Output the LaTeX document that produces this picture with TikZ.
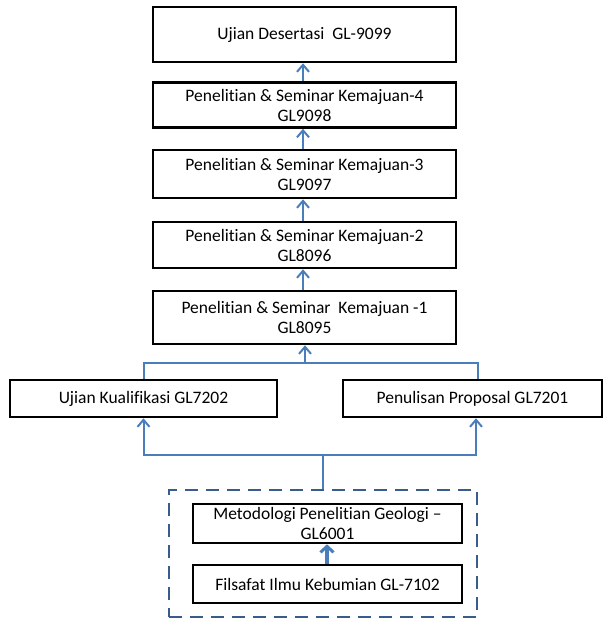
\documentclass[tikz,border=0pt]{standalone}
\usepackage{fontspec}
\setmainfont{Carlito}[Ligatures={NoCommon}, RawFeature={-liga;-clig;-dlig}]
\usetikzlibrary{arrows.meta}
\definecolor{arrowblue}{RGB}{74,126,187}
\definecolor{dashblue}{RGB}{56,93,138}
\tikzset{
  box/.style={draw=black, line width=2.6pt, rectangle, inner sep=0pt, align=center,
    font=\fontsize{17.5}{20}\selectfont},
  conn/.style={draw=arrowblue, line width=2pt},
  upar/.style={conn, -{Straight Barb[length=7pt,width=12pt,line width=2pt]}},
  group/.style={draw=dashblue, line width=2.6pt, dash pattern=on 13pt off 8pt, rectangle, inner sep=0pt}
}
\begin{document}
\begin{tikzpicture}[x=1pt,y=-1pt]
\useasboundingbox (0,0) rectangle (603,620);
\node[box, minimum width=303pt, minimum height=55pt] (b1) at (304.5,34.5) {Ujian Desertasi\ \ GL-9099};
\node[box, minimum width=303pt, minimum height=45pt] (b2) at (304.5,105) {Penelitian \& Seminar Kemajuan-4\\GL9098};
\node[box, minimum width=303pt, minimum height=48pt] (b3) at (304.5,174) {Penelitian \& Seminar Kemajuan-3\\GL9097};
\node[box, minimum width=303pt, minimum height=46pt] (b4) at (304.5,245) {Penelitian \& Seminar Kemajuan-2\\GL8096};
\node[box, minimum width=303pt, minimum height=53pt] (b5) at (304.5,317.5) {Penelitian \& Seminar\ \ Kemajuan -1\\GL8095};
\node[box, minimum width=267pt, minimum height=37pt] (kual) at (143.5,398.5) {Ujian Kualifikasi GL7202};
\node[box, minimum width=259pt, minimum height=37pt] (prop) at (472.5,398.5) {Penulisan Proposal GL7201};
\node[group, minimum width=308pt, minimum height=127pt] (grp) at (323,553.5) {};
\node[box, minimum width=269pt, minimum height=39pt] (meto) at (327.5,523.5) {Metodologi Penelitian Geologi --\\GL6001};
\node[box, minimum width=269pt, minimum height=38pt] (fils) at (327.5,584) {Filsafat Ilmu Kebumian GL-7102};

\draw[upar] (b2.north -| 303,0) -- (b1.south -| 303,0);
\draw[upar] (b3.north -| 303,0) -- (b2.south -| 303,0);
\draw[upar] (b4.north -| 303,0) -- (b3.south -| 303,0);
\draw[upar] (b5.north -| 303,0) -- (b4.south -| 303,0);

\coordinate (jt) at (305,363);
\coordinate (rtop) at (478,0);
\draw[conn] (kual.north) |- (jt);
\draw[conn] (prop.north -| rtop) |- (jt);
\draw[upar] (jt) -- (b5.south -| jt);

\coordinate (jb) at (323,455);
\draw[upar] (jb) -| (kual.south);
\draw[upar] (jb) -| (prop.south -| 476,0);
\draw[conn] (grp.north) -- (jb);

\draw[conn, line width=3.5pt, -{Straight Barb[length=6pt,width=13pt,line width=3pt]}] (fils.north -| 327,0) -- (meto.south -| 327,0);
\end{tikzpicture}
\end{document}
